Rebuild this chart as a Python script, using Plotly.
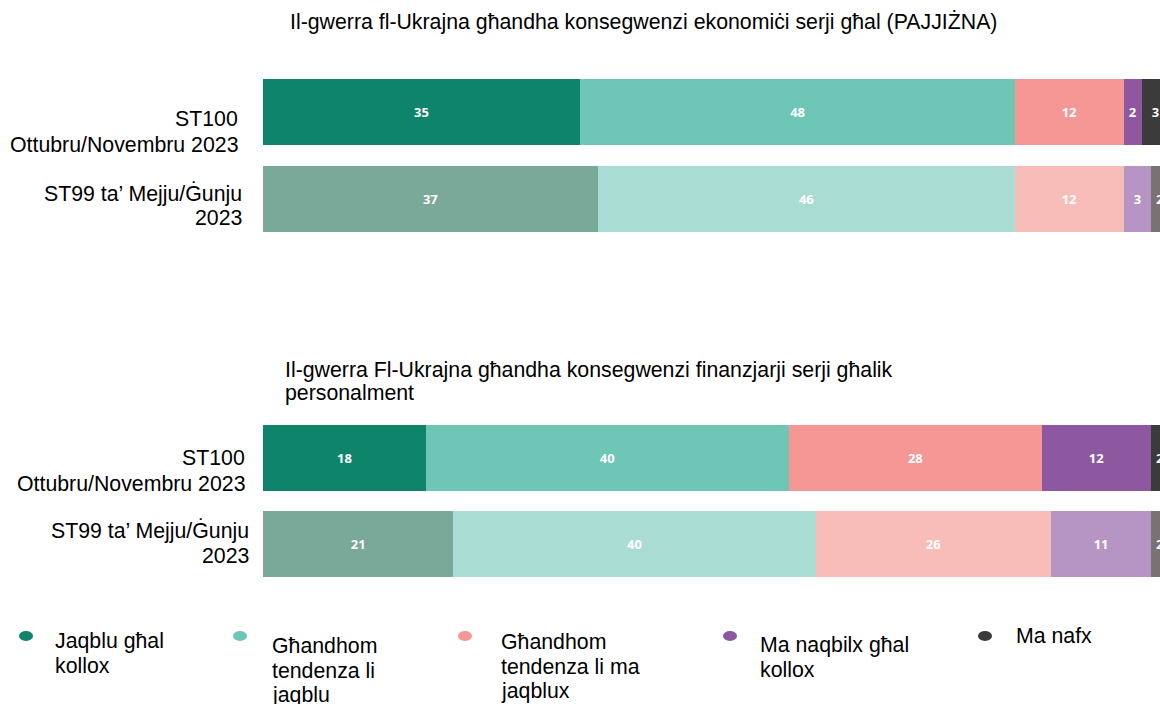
import plotly.graph_objects as go

# ---------------- data ----------------
categories = ["ST100<br>Ottubru/Novembru 2023", "ST99 ta’ Mejju/Ġunju<br>2023"]
series_names = ["Jaqblu għal kollox", "Għandhom tendenza li jaqblu",
                "Għandhom tendenza li ma jaqblux", "Ma naqbilx għal kollox", "Ma nafx"]
econ_st100 = [35, 48, 12, 2, 3]
econ_st99 = [37, 46, 12, 3, 2]
pers_st100 = [18, 40, 28, 12, 2]
pers_st99 = [21, 40, 26, 11, 2]
title_econ = "Il-gwerra fl-Ukrajna għandha konsegwenzi ekonomiċi serji għal (PAJJIŻNA)"
title_pers = ["Il-gwerra Fl-Ukrajna għandha konsegwenzi finanzjarji serji għalik", "personalment"]
legend_lines = [["Jaqblu għal", "kollox"], ["Għandhom", "tendenza li", "jaqblu"],
                ["Għandhom", "tendenza li ma", "jaqblux"], ["Ma naqbilx għal", "kollox"], ["Ma nafx"]]

# ---------------- style ----------------
W, H = 1160, 704
full_colors = ["#0e846b", "#6ec6b6", "#f49795", "#8e58a0", "#3b3b3b"]
faded_colors = ["#7aa899", "#a9dcd2", "#f8bdb8", "#b694c3", "#787272"]
FONT = "Liberation Sans, Arial, sans-serif"
FS = 21.3
LINE = 24.5
PAD = 2  # annotation inner padding compensation

def px_x(p):
    return p / W

def px_y(p):
    return 1 - p / H

fig = go.Figure()

panels = [("x", "y", econ_st100, econ_st99), ("x2", "y2", pers_st100, pers_st99)]
for xa, ya, a, b in panels:
    for i, name in enumerate(series_names):
        fig.add_trace(go.Bar(
            y=categories, x=[a[i], b[i]], orientation="h", name=name,
            marker=dict(color=[full_colors[i], faded_colors[i]], line=dict(width=0)),
            text=[a[i], b[i]], textposition="inside", insidetextanchor="middle",
            textangle=0, constraintext="none",
            textfont=dict(family="Open Sans, sans-serif", size=13, color="white", weight="bold"),
            xaxis=xa, yaxis=ya, showlegend=False, hoverinfo="skip",
        ))

annotations = []
def add_lines(lines, x_px, first_center_px, anchor, spacing=LINE):
    shift = {"left": -PAD, "right": PAD, "center": 0}[anchor]
    for k, t in enumerate(lines):
        annotations.append(dict(
            text=t, xref="paper", yref="paper", x=px_x(x_px + shift),
            y=px_y(first_center_px + k * spacing), xanchor=anchor, yanchor="middle",
            showarrow=False, font=dict(family=FONT, size=FS, color="black"),
        ))

# titles
add_lines([title_econ], 643.5, 22, "center")
add_lines(title_pers, 285, 370, "left", 23)

# category labels (right aligned)
label_pos = [(238, 119), (242, 193), (245, 458), (249, 530)]
cats_twice = categories + categories
for (xr, yc), cat in zip(label_pos, cats_twice):
    add_lines(cat.split("<br>"), xr, yc, "right", 25.5)

# legend
dot_x = [26, 240, 465, 730, 985]
txt_x = [55, 272, 501, 760, 1016]
txt_y = [641, 646, 642, 645, 636]
shapes = []
for i in range(len(series_names)):
    shapes.append(dict(type="circle", xref="paper", yref="paper",
                       x0=px_x(dot_x[i] - 7), x1=px_x(dot_x[i] + 7),
                       y0=px_y(636 + 5), y1=px_y(636 - 5),
                       fillcolor=full_colors[i], line=dict(width=0)))
    add_lines(legend_lines[i], txt_x[i], txt_y[i], "left")

x_dom = [263 / W, 1]
fig.update_layout(
    width=W, height=H, margin=dict(l=0, r=0, t=0, b=0),
    paper_bgcolor="white", plot_bgcolor="white",
    barmode="stack", bargap=0.24,
    xaxis=dict(domain=x_dom, range=[0, 99], anchor="y", visible=False, fixedrange=True),
    xaxis2=dict(domain=x_dom, range=[0, 99], anchor="y2", visible=False, fixedrange=True),
    yaxis=dict(domain=[px_y(242.5), px_y(68.5)], anchor="x", autorange="reversed",
               visible=False, categoryorder="array", categoryarray=categories, fixedrange=True),
    yaxis2=dict(domain=[px_y(587.5), px_y(414.5)], anchor="x2", autorange="reversed",
                visible=False, categoryorder="array", categoryarray=categories, fixedrange=True),
    annotations=annotations, shapes=shapes, showlegend=False,
)

fig.write_html("out.html", config={"displayModeBar": False},
               post_script="document.body.style.margin='0';document.body.style.overflow='hidden';")
